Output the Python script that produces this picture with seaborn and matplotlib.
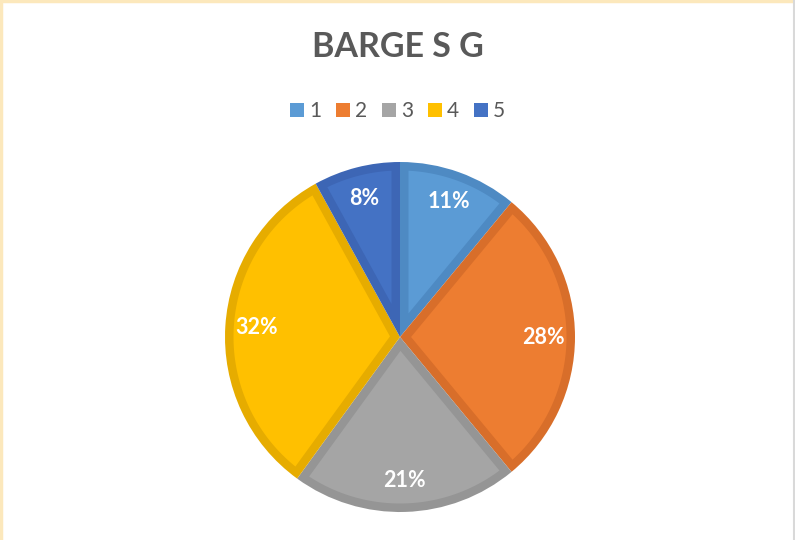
import matplotlib
matplotlib.use("Agg")
import numpy as np
import matplotlib.pyplot as plt
import seaborn as sns
from matplotlib.patches import Rectangle, Polygon
from matplotlib.lines import Line2D

sns.set_theme(style="white")
plt.rcParams['font.family'] = ['Lato', 'DejaVu Sans']

title = "BARGE S G"
categories = ["1", "2", "3", "4", "5"]
values = [11, 28, 21, 32, 8]
fill_colors = ["#5B9BD5", "#ED7D31", "#A5A5A5", "#FFC000", "#4472C4"]
edge_colors = ["#4E8AC3", "#D86E2A", "#959595", "#E6AC00", "#3D66B5"]

W, H = 795, 540
fig = plt.figure(figsize=(W / 100, H / 100), dpi=100)
fig.patch.set_facecolor("white")

cx, cy, r = 400, 337, 175
ax = fig.add_axes([(cx - r) / W, (H - cy - r) / H, 2 * r / W, 2 * r / H])
wedges, texts, autotexts = ax.pie(
    values, colors=edge_colors, startangle=90, counterclock=False,
    autopct=lambda p: f"{p:.0f}%", pctdistance=0.82, radius=1,
    wedgeprops=dict(linewidth=0),
    textprops=dict(color="white", fontsize=15.5, fontweight="bold"))

# inner (inset) fill to create the darker inside border of each slice
d = 8.5 / r
for w, fc in zip(wedges, fill_colors):
    t1, t2 = sorted([w.theta1, w.theta2])
    R = w.r
    cxw, cyw = w.center
    half = np.radians(t2 - t1) / 2
    mid = np.radians((t1 + t2) / 2)
    apex_dist = d / np.sin(half)
    apex = (cxw + apex_dist * np.cos(mid), cyw + apex_dist * np.sin(mid))
    Ri = R - d
    da = np.degrees(np.arcsin(d / Ri))
    angs = np.radians(np.linspace(t1 + da, t2 - da, 120))
    pts = [apex] + [(cxw + Ri * np.cos(a), cyw + Ri * np.sin(a)) for a in angs]
    poly = Polygon(pts, closed=True, facecolor=fc, edgecolor="none", zorder=w.get_zorder() + 0.1)
    ax.add_patch(poly)
for t in autotexts:
    t.set_zorder(5)

ax.set_xlim(-1, 1)
ax.set_ylim(-1, 1)
ax.set_aspect("equal")
ax.axis("off")

fig.text(0.5, 1 - 47 / H, title, ha="center", va="center",
         fontsize=24.5, fontweight="bold", color="#595959")

handles = [Rectangle((0, 0), 1, 1, facecolor=c, edgecolor="none") for c in fill_colors]
leg = fig.legend(handles, categories, loc="center", bbox_to_anchor=(0.5, 1 - 111 / H),
                 ncol=5, frameon=False, fontsize=15, handlelength=0.67, handleheight=0.67,
                 handletextpad=0.25, columnspacing=0.7, labelcolor="#595959")

# frame border
fig.add_artist(Line2D([0, 1], [1 - 1 / H, 1 - 1 / H], color="#FCE8BC", lw=2.5, transform=fig.transFigure))
fig.add_artist(Line2D([1 / W, 1 / W], [0, 1], color="#FCE8BC", lw=2.5, transform=fig.transFigure))
fig.add_artist(Line2D([1 - 1 / W, 1 - 1 / W], [0, 1], color="#D9D9D9", lw=1.5, transform=fig.transFigure))

fig.savefig("out.png", dpi=100, facecolor="white")
